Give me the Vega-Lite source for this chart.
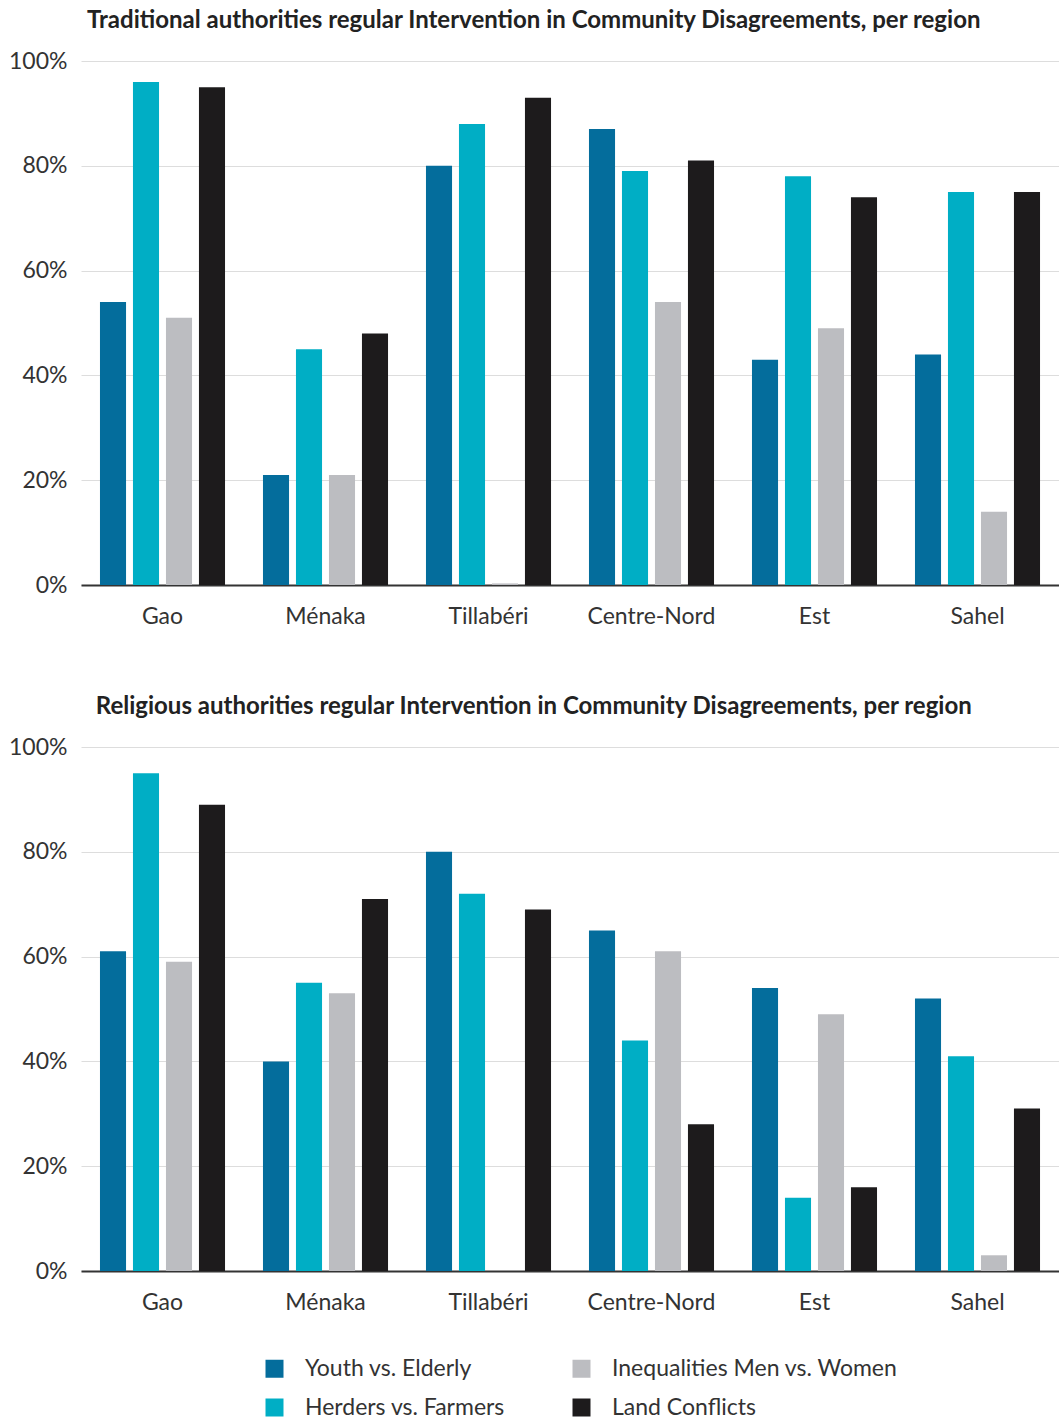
{
 "$schema": "https://vega.github.io/schema/vega-lite/v6.json",
 "padding": {"left": 8, "top": 9, "right": 0, "bottom": 0},
 "background": "white",
 "datasets": {
  "trad": [
   {"region": "Gao", "type": "Youth vs. Elderly", "value": 54},
   {"region": "Gao", "type": "Herders vs. Farmers", "value": 96},
   {"region": "Gao", "type": "Inequalities Men vs. Women", "value": 51},
   {"region": "Gao", "type": "Land Conflicts", "value": 95},
   {"region": "Ménaka", "type": "Youth vs. Elderly", "value": 21},
   {"region": "Ménaka", "type": "Herders vs. Farmers", "value": 45},
   {"region": "Ménaka", "type": "Inequalities Men vs. Women", "value": 21},
   {"region": "Ménaka", "type": "Land Conflicts", "value": 48},
   {"region": "Tillabéri", "type": "Youth vs. Elderly", "value": 80},
   {"region": "Tillabéri", "type": "Herders vs. Farmers", "value": 88},
   {"region": "Tillabéri", "type": "Inequalities Men vs. Women", "value": 0.3},
   {"region": "Tillabéri", "type": "Land Conflicts", "value": 93},
   {"region": "Centre-Nord", "type": "Youth vs. Elderly", "value": 87},
   {"region": "Centre-Nord", "type": "Herders vs. Farmers", "value": 79},
   {"region": "Centre-Nord", "type": "Inequalities Men vs. Women", "value": 54},
   {"region": "Centre-Nord", "type": "Land Conflicts", "value": 81},
   {"region": "Est", "type": "Youth vs. Elderly", "value": 43},
   {"region": "Est", "type": "Herders vs. Farmers", "value": 78},
   {"region": "Est", "type": "Inequalities Men vs. Women", "value": 49},
   {"region": "Est", "type": "Land Conflicts", "value": 74},
   {"region": "Sahel", "type": "Youth vs. Elderly", "value": 44},
   {"region": "Sahel", "type": "Herders vs. Farmers", "value": 75},
   {"region": "Sahel", "type": "Inequalities Men vs. Women", "value": 14},
   {"region": "Sahel", "type": "Land Conflicts", "value": 75}
  ],
  "rel": [
   {"region": "Gao", "type": "Youth vs. Elderly", "value": 61},
   {"region": "Gao", "type": "Herders vs. Farmers", "value": 95},
   {"region": "Gao", "type": "Inequalities Men vs. Women", "value": 59},
   {"region": "Gao", "type": "Land Conflicts", "value": 89},
   {"region": "Ménaka", "type": "Youth vs. Elderly", "value": 40},
   {"region": "Ménaka", "type": "Herders vs. Farmers", "value": 55},
   {"region": "Ménaka", "type": "Inequalities Men vs. Women", "value": 53},
   {"region": "Ménaka", "type": "Land Conflicts", "value": 71},
   {"region": "Tillabéri", "type": "Youth vs. Elderly", "value": 80},
   {"region": "Tillabéri", "type": "Herders vs. Farmers", "value": 72},
   {"region": "Tillabéri", "type": "Inequalities Men vs. Women", "value": 0},
   {"region": "Tillabéri", "type": "Land Conflicts", "value": 69},
   {"region": "Centre-Nord", "type": "Youth vs. Elderly", "value": 65},
   {"region": "Centre-Nord", "type": "Herders vs. Farmers", "value": 44},
   {"region": "Centre-Nord", "type": "Inequalities Men vs. Women", "value": 61},
   {"region": "Centre-Nord", "type": "Land Conflicts", "value": 28},
   {"region": "Est", "type": "Youth vs. Elderly", "value": 54},
   {"region": "Est", "type": "Herders vs. Farmers", "value": 14},
   {"region": "Est", "type": "Inequalities Men vs. Women", "value": 49},
   {"region": "Est", "type": "Land Conflicts", "value": 16},
   {"region": "Sahel", "type": "Youth vs. Elderly", "value": 52},
   {"region": "Sahel", "type": "Herders vs. Farmers", "value": 41},
   {"region": "Sahel", "type": "Inequalities Men vs. Women", "value": 3},
   {"region": "Sahel", "type": "Land Conflicts", "value": 31}
  ]
 },
 "config": {
  "font": "Lato",
  "view": {"stroke": null},
  "axis": {"labelFont": "Lato", "labelColor": "#333333", "labelFontSize": 23, "titleFont": "Lato"},
  "legend": {"labelFont": "Lato"},
  "title": {"font": "Lato"}
 },
 "spacing": 67,
 "resolve": {"scale": {"color": "shared"}},
 "vconcat": [
  {
   "title": {"text": "Traditional authorities regular Intervention in Community Disagreements, per region", "anchor": "middle", "frame": "bounds", "fontSize": 24, "fontWeight": "bold", "color": "#222222", "offset": 17},
   "width": 978,
   "height": 524,
   "data": {"name": "trad"},
   "mark": {"type": "bar"},
   "encoding": {
    "x": {"field": "region", "type": "nominal", "sort": ["Gao", "Ménaka", "Tillabéri", "Centre-Nord", "Est", "Sahel"], "scale": {"paddingInner": 0, "paddingOuter": 0}, "axis": {"title": null, "labelAngle": 0, "ticks": false, "domain": true, "domainColor": "#333333", "domainWidth": 2, "labelPadding": 20, "labelFontSize": 23, "grid": false}},
    "xOffset": {"field": "type", "type": "nominal", "sort": ["Youth vs. Elderly", "Herders vs. Farmers", "Inequalities Men vs. Women", "Land Conflicts"], "scale": {"paddingInner": 0.21, "paddingOuter": 0.575}},
    "y": {"field": "value", "type": "quantitative", "scale": {"domain": [0, 100]}, "axis": {"title": null, "values": [0, 20, 40, 60, 80, 100], "labelExpr": "datum.value + '%'", "ticks": false, "domain": false, "gridColor": "#dddddd", "labelPadding": 14}},
    "color": {"field": "type", "type": "nominal", "scale": {"domain": ["Youth vs. Elderly", "Herders vs. Farmers", "Inequalities Men vs. Women", "Land Conflicts"], "range": ["#046d9c", "#00aec5", "#bcbdc1", "#1d1b1c"]}, "legend": {"title": null, "orient": "none", "legendX": 182, "legendY": 1296, "columns": 2, "columnPadding": 65, "rowPadding": 15, "symbolType": "square", "symbolSize": 324, "symbolStrokeWidth": 0, "symbolOpacity": 1, "labelFontSize": 23, "labelColor": "#333333", "labelOffset": 19, "labelLimit": 400}}
   }
  },
  {
   "title": {"text": "Religious authorities regular Intervention in Community Disagreements, per region", "anchor": "middle", "frame": "bounds", "fontSize": 24, "fontWeight": "bold", "color": "#222222", "offset": 17},
   "width": 978,
   "height": 524,
   "data": {"name": "rel"},
   "mark": {"type": "bar"},
   "encoding": {
    "x": {"field": "region", "type": "nominal", "sort": ["Gao", "Ménaka", "Tillabéri", "Centre-Nord", "Est", "Sahel"], "scale": {"paddingInner": 0, "paddingOuter": 0}, "axis": {"title": null, "labelAngle": 0, "ticks": false, "domain": true, "domainColor": "#333333", "domainWidth": 2, "labelPadding": 20, "labelFontSize": 23, "grid": false}},
    "xOffset": {"field": "type", "type": "nominal", "sort": ["Youth vs. Elderly", "Herders vs. Farmers", "Inequalities Men vs. Women", "Land Conflicts"], "scale": {"paddingInner": 0.21, "paddingOuter": 0.575}},
    "y": {"field": "value", "type": "quantitative", "scale": {"domain": [0, 100]}, "axis": {"title": null, "values": [0, 20, 40, 60, 80, 100], "labelExpr": "datum.value + '%'", "ticks": false, "domain": false, "gridColor": "#dddddd", "labelPadding": 14}},
    "color": {"field": "type", "type": "nominal", "scale": {"domain": ["Youth vs. Elderly", "Herders vs. Farmers", "Inequalities Men vs. Women", "Land Conflicts"], "range": ["#046d9c", "#00aec5", "#bcbdc1", "#1d1b1c"]}, "legend": {"title": null, "orient": "none", "legendX": 182, "legendY": 1296, "columns": 2, "columnPadding": 65, "rowPadding": 15, "symbolType": "square", "symbolSize": 324, "symbolStrokeWidth": 0, "symbolOpacity": 1, "labelFontSize": 23, "labelColor": "#333333", "labelOffset": 19, "labelLimit": 400}}
   }
  }
 ]
}
